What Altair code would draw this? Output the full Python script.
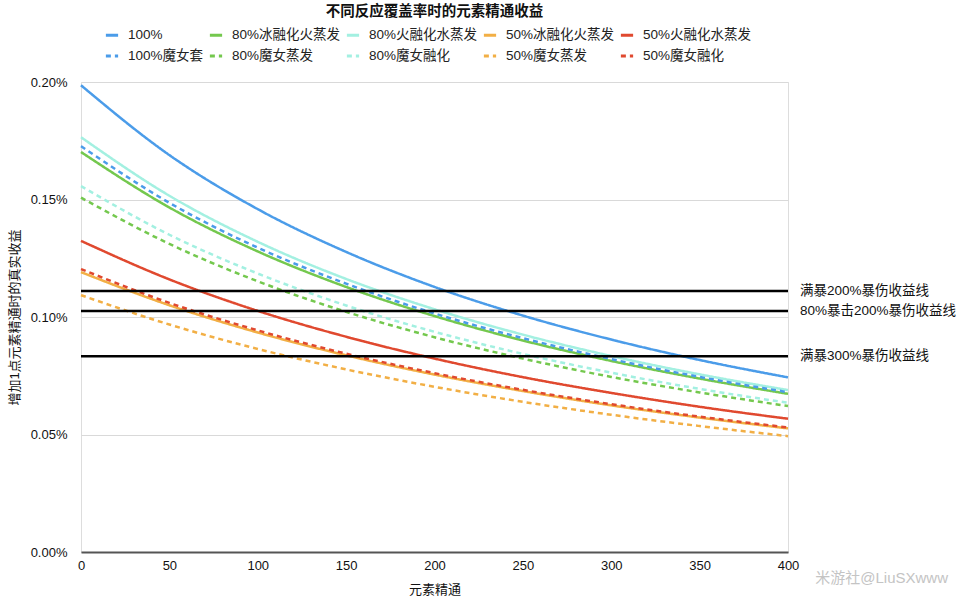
import altair as alt
import pandas as pd

# ---------------- data (values in percent) ----------------
x_vals = [0, 50, 100, 150, 200, 250, 300, 350, 400]

series_names = [
    "100%", "80%冰融化火蒸发", "80%火融化水蒸发", "50%冰融化火蒸发", "50%火融化水蒸发",
    "100%魔女套", "80%魔女蒸发", "80%魔女融化", "50%魔女蒸发", "50%魔女融化",
]

v_100 = [0.1986, 0.1689, 0.1459, 0.1277, 0.1128, 0.1006, 0.0904, 0.0817, 0.0743]
v_80_ice_melt = [0.1702, 0.1466, 0.1279, 0.1128, 0.1004, 0.0900, 0.0813, 0.0738, 0.0673]
v_80_fire_melt = [0.1765, 0.1516, 0.1320, 0.1162, 0.1033, 0.0925, 0.0834, 0.0756, 0.0689]
v_50_ice_melt = [0.1191, 0.1050, 0.0934, 0.0837, 0.0755, 0.0685, 0.0624, 0.0572, 0.0526]
v_50_fire_melt = [0.1324, 0.1160, 0.1026, 0.0916, 0.0823, 0.0744, 0.0677, 0.0618, 0.0567]
v_100_witch = [0.1727, 0.1486, 0.1295, 0.1142, 0.1015, 0.0910, 0.0821, 0.0745, 0.0680]
v_80_witch_vap = [0.1508, 0.1311, 0.1152, 0.1022, 0.0914, 0.0823, 0.0745, 0.0679, 0.0621]
v_80_witch_melt = [0.1557, 0.1350, 0.1185, 0.1049, 0.0937, 0.0843, 0.0763, 0.0694, 0.0635]
v_50_witch_vap = [0.1093, 0.0968, 0.0864, 0.0777, 0.0703, 0.0639, 0.0584, 0.0536, 0.0493]
v_50_witch_melt = [0.1204, 0.1060, 0.0943, 0.0844, 0.0761, 0.0690, 0.0629, 0.0576, 0.0530]

ref_values = [0.1111, 0.1026, 0.0833]
ref_labels = ["满暴200%暴伤收益线", "80%暴击200%暴伤收益线", "满暴300%暴伤收益线"]

y_ticks = [0, 0.05, 0.10, 0.15, 0.20]

title_text = "不同反应覆盖率时的元素精通收益"
x_title = "元素精通"
y_title = "增加1点元素精通时的真实收益"
watermark = ["米游社@LiuSXwww"]

# ---------------- styles ----------------
colors = ["#4B9CE9", "#74C84E", "#A3F0E1", "#F2AF45", "#E0492F",
          "#4B9CE9", "#74C84E", "#A3F0E1", "#F2AF45", "#E0492F"]
dashes = [[1, 0]] * 5 + [[5, 4]] * 5
FONT = "'Liberation Sans', 'Noto Sans CJK SC', sans-serif"

all_vals = [v_100, v_80_ice_melt, v_80_fire_melt, v_50_ice_melt, v_50_fire_melt,
            v_100_witch, v_80_witch_vap, v_80_witch_melt, v_50_witch_vap, v_50_witch_melt]

rows = []
for name, vals in zip(series_names, all_vals):
    for x, v in zip(x_vals, vals):
        rows.append({"series": name, "x": x, "value": v / 100.0})
df = pd.DataFrame(rows)

ref_df = pd.DataFrame({"value": [v / 100.0 for v in ref_values], "label": ref_labels})
wm_df = pd.DataFrame({"text": watermark})

W, H = 707, 470

legend = alt.Legend(
    orient="none", legendX=23, legendY=-55, columns=5, direction="horizontal",
    symbolType="stroke", symbolStrokeWidth=3, symbolSize=150,
    labelFontSize=13.5, labelFont=FONT, labelColor="#222", labelOffset=8,
    columnPadding=-1, rowPadding=6, labelLimit=250, title=None,
)

y_enc = alt.Y("value:Q", scale=alt.Scale(domain=[0, 0.002], nice=False),
              axis=alt.Axis(values=[t / 100.0 for t in y_ticks], format=".2%",
                            title=y_title, grid=True, gridColor="#d9d9d9", domain=False,
                            ticks=False, tickSize=0, labelPadding=14, labelFlush=False,
                            labelFontSize=13, titleFontSize=13, titleFontWeight="normal",
                            titlePadding=9, labelColor="#111", titleColor="#111",
                            labelFont=FONT, titleFont=FONT))

lines = alt.Chart(df).mark_line(interpolate="monotone", strokeWidth=2.5).encode(
    x=alt.X("x:Q", scale=alt.Scale(domain=[0, 400], nice=False),
            axis=alt.Axis(values=x_vals, title=x_title, grid=False, ticks=False, tickSize=0,
                          domainColor="#555", domainWidth=2, labelPadding=7, labelFlush=False,
                          labelFontSize=13, titleFontSize=13, titleFontWeight="normal",
                          titlePadding=11, labelColor="#111", titleColor="#111",
                          labelFont=FONT, titleFont=FONT)),
    y=y_enc,
    color=alt.Color("series:N", scale=alt.Scale(domain=series_names, range=colors),
                    sort=series_names, legend=legend),
    strokeDash=alt.StrokeDash("series:N", scale=alt.Scale(domain=series_names, range=dashes),
                              sort=series_names, legend=legend),
)

rules = alt.Chart(ref_df).mark_rule(color="black", strokeWidth=2.5).encode(
    y=y_enc,
    x=alt.value(0), x2=alt.value(W),
)

ref_text = alt.Chart(ref_df).mark_text(align="left", baseline="middle", fontSize=13.5,
                                       font=FONT, color="#111").encode(
    y=y_enc,
    x=alt.value(W + 12),
    text="label:N",
)

wm = alt.Chart(wm_df).mark_text(align="right", baseline="middle", fontSize=15,
                                font=FONT, color="#c4c4c4").encode(
    x=alt.value(867), y=alt.value(496), text="text:N",
)

chart = alt.layer(lines, rules, ref_text, wm).properties(
    width=W, height=H,
    title=alt.TitleParams(text=title_text, fontSize=14.5, fontWeight="bold", anchor="middle",
                          font=FONT, offset=8, color="#111"),
    autosize=alt.AutoSizeParams(type="none"),
    padding={"left": 81, "top": 82, "right": 170, "bottom": 48},
).configure_view(stroke=None).configure(background="white")

chart.save("out.html", embed_options={"renderer": "svg", "actions": False})
